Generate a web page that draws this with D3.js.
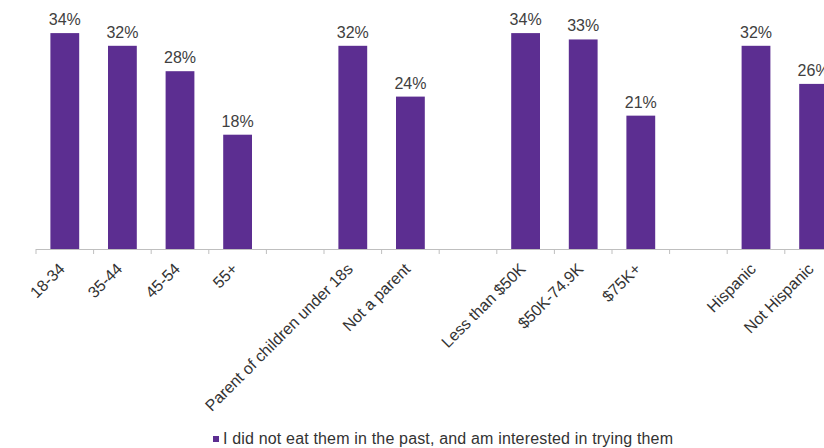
<!doctype html>
<html>
<head>
<script src="https://cdn.jsdelivr.net/npm/d3@7"></script>
<style>
  body { margin: 0; background: #fff; }
  svg { display: block; font-family: "Liberation Sans", Arial, sans-serif; }
</style>
</head>
<body>
<svg width="824" height="448"></svg>
<script>
// categories, with empty slots used as gaps between groups
var categories = ["18-34", "35-44", "45-54", "55+", "",
                  "Parent of children under 18s", "Not a parent", "",
                  "Less than $50K", "$50K-74.9K", "$75K+", "",
                  "Hispanic", "Not Hispanic"];
var values = [34, 32, 28, 18, null, 32, 24, null, 34, 33, 21, null, 32, 26];
var seriesName = "I did not eat them in the past, and am interested in trying them";

var svg = d3.select("svg");
var slots = d3.range(categories.length);

var x = d3.scaleBand().domain(slots).range([36, 842.4])
          .paddingInner(0.5).paddingOuter(0.25);
var y = d3.scaleLinear().domain([0, 40]).range([249, -5]);
var step = x.step();

var data = slots.filter(i => values[i] != null);

// bars
svg.selectAll("rect.bar")
   .data(data)
   .enter().append("rect")
   .attr("class", "bar")
   .attr("x", i => x(i))
   .attr("y", i => y(values[i]))
   .attr("width", x.bandwidth())
   .attr("height", i => y(0) - y(values[i]))
   .style("fill", "#5c2e91");

// value labels
svg.selectAll("text.val")
   .data(data)
   .enter().append("text")
   .attr("class", "val")
   .attr("x", i => x(i) + x.bandwidth() / 2)
   .attr("y", i => y(values[i]) - 8)
   .attr("text-anchor", "middle")
   .style("font-size", "16px")
   .style("fill", "#404040")
   .text(i => values[i] + "%");

// axis line and boundary ticks
var x0 = x.range()[0];
svg.append("line")
   .attr("x1", x0).attr("x2", x.range()[1])
   .attr("y1", y(0) + 0.5).attr("y2", y(0) + 0.5)
   .style("stroke", "#bfbfbf");
svg.selectAll("line.tick")
   .data(d3.range(categories.length + 1))
   .enter().append("line")
   .attr("class", "tick")
   .attr("x1", k => x0 + k * step).attr("x2", k => x0 + k * step)
   .attr("y1", y(0)).attr("y2", y(0) + 5)
   .style("stroke", "#bfbfbf");

// category labels
svg.selectAll("text.cat")
   .data(slots.filter(i => categories[i] !== ""))
   .enter().append("text")
   .attr("class", "cat")
   .attr("text-anchor", "end")
   .attr("transform", i => "translate(" + (x(i) + x.bandwidth() / 2 + 1) + "," + (y(0) + 21) + ") rotate(-45)")
   .style("font-size", "16px")
   .style("fill", "#333")
   .text(i => categories[i]);

// legend
svg.append("rect")
   .attr("x", 213).attr("y", 436)
   .attr("width", 6).attr("height", 6)
   .style("fill", "#5c2e91");
svg.append("text")
   .attr("x", 223).attr("y", 444)
   .attr("textLength", 450)
   .style("font-size", "16px")
   .style("fill", "#333")
   .text(seriesName);
</script>
</body>
</html>
